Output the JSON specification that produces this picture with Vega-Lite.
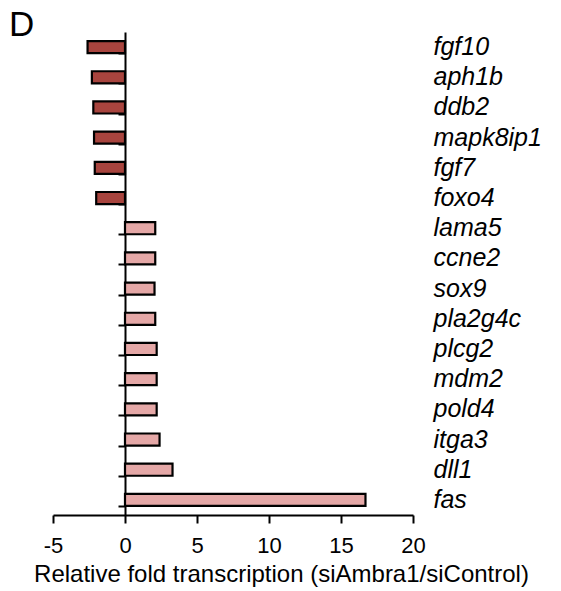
{
  "$schema": "https://vega.github.io/schema/vega-lite/v6.json",
  "autosize": "none",
  "padding": {"left": 53, "top": 32, "right": 148, "bottom": 76},
  "width": 360,
  "height": 483,
  "background": "white",
  "title": {"text": "D", "anchor": "start", "frame": "group", "fontSize": 35, "fontWeight": "normal", "font": "Liberation Sans", "color": "black", "dx": -44, "dy": 31, "offset": -8, "baseline": "alphabetic"},
  "data": {"values": [
    {"gene": "fgf10", "value": -2.6, "dir": "down"},
    {"gene": "aph1b", "value": -2.3, "dir": "down"},
    {"gene": "ddb2", "value": -2.2, "dir": "down"},
    {"gene": "mapk8ip1", "value": -2.15, "dir": "down"},
    {"gene": "fgf7", "value": -2.1, "dir": "down"},
    {"gene": "foxo4", "value": -2.0, "dir": "down"},
    {"gene": "lama5", "value": 2.1, "dir": "up"},
    {"gene": "ccne2", "value": 2.1, "dir": "up"},
    {"gene": "sox9", "value": 2.05, "dir": "up"},
    {"gene": "pla2g4c", "value": 2.1, "dir": "up"},
    {"gene": "plcg2", "value": 2.2, "dir": "up"},
    {"gene": "mdm2", "value": 2.2, "dir": "up"},
    {"gene": "pold4", "value": 2.2, "dir": "up"},
    {"gene": "itga3", "value": 2.4, "dir": "up"},
    {"gene": "dll1", "value": 3.3, "dir": "up"},
    {"gene": "fas", "value": 16.7, "dir": "up"}
  ]},
  "config": {"view": {"stroke": null}, "axis": {"grid": false, "labelFont": "Liberation Sans", "titleFont": "Liberation Sans", "labelColor": "black", "titleColor": "black", "domainColor": "black", "tickColor": "black"}},
  "layer": [
    {
      "mark": {"type": "bar", "stroke": "black", "strokeWidth": 2.2},
      "encoding": {
        "y": {"field": "gene", "type": "nominal", "sort": null,
              "scale": {"paddingInner": 0.6, "paddingOuter": 0.3},
              "axis": {"orient": "left", "labels": false, "title": null, "offset": -72, "domainWidth": 2, "tickWidth": 2, "tickSize": 7, "tickBand": "extent"}},
        "x": {"field": "value", "type": "quantitative",
              "scale": {"domain": [-5, 20], "nice": false, "zero": false},
              "axis": {"values": [-5, 0, 5, 10, 15, 20], "labelExpr": "'' + datum.value", "title": "Relative fold transcription (siAmbra1/siControl)", "titleFontSize": 24, "titleFontWeight": "normal", "titleX": 228, "titleY": 66, "titleAlign": "center", "titleBaseline": "alphabetic", "labelFontSize": 22, "labelPadding": 12, "domainWidth": 2, "tickWidth": 2, "tickSize": 8, "labelFlush": false}},
        "fill": {"field": "dir", "type": "nominal", "scale": {"domain": ["down", "up"], "range": ["#A8443E", "#E5A8A7"]}, "legend": null}
      }
    },
    {
      "mark": {"type": "bar", "opacity": 0},
      "encoding": {
        "y": {"field": "gene", "type": "nominal", "sort": null,
              "axis": {"orient": "right", "title": null, "domain": false, "ticks": false, "labelFontSize": 25, "labelFontStyle": "italic", "labelPadding": 20, "labelAlign": "left"}},
        "x": {"field": "value", "type": "quantitative"}
      }
    }
  ],
  "resolve": {"axis": {"y": "independent"}}
}
